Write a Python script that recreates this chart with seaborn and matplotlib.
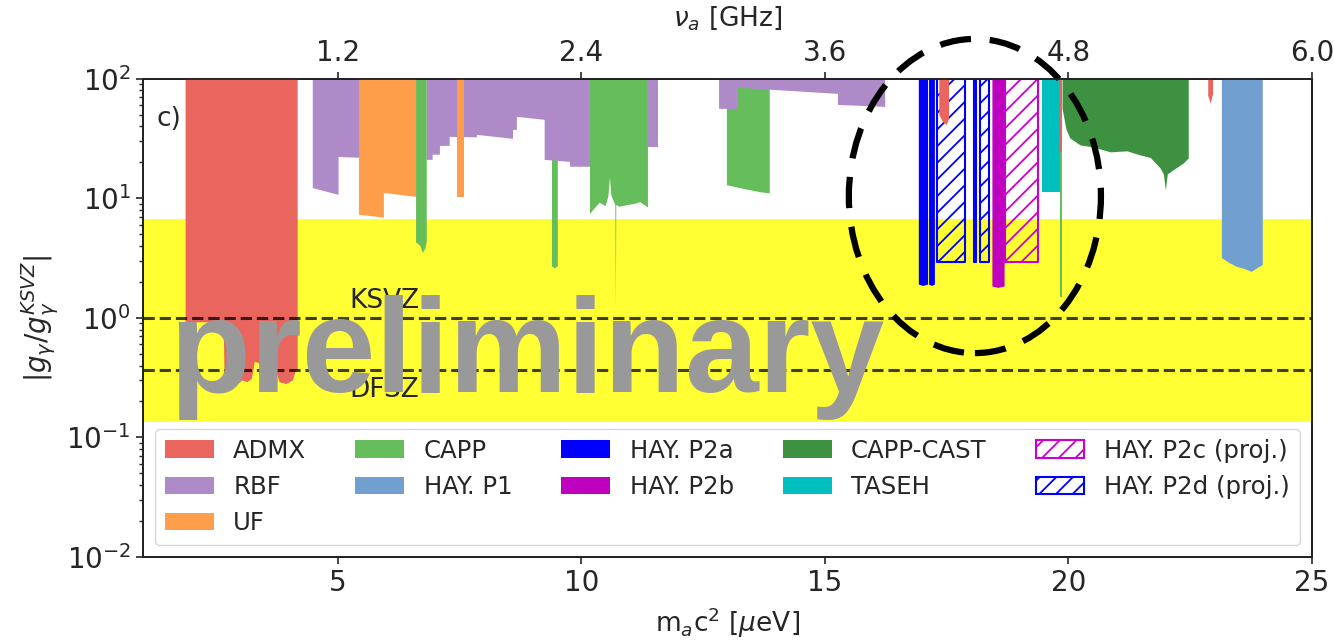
import numpy as np
import matplotlib
matplotlib.use("Agg")
import matplotlib.pyplot as plt
from matplotlib.patches import Ellipse
import seaborn as sns

nan = np.nan

# ---------------- data ----------------
# lower edges of exclusion regions (upper edge is the top of the plot, 1e2)
admx_x = [1.88, 2.66, 2.68, 2.75, 2.85, 2.95, 3.05, 3.15, 3.24, 3.30, 3.45, 3.60, 3.70, 3.81, 3.95, 4.08, 4.14, 4.18,
          nan, 17.35, 17.42, 17.50, 17.55, nan, 19.83, 19.87, nan, 22.87, 22.92, 22.97]
admx_lo = [0.92, 0.92, 0.33, 0.29, 0.31, 0.28, 0.30, 0.29, 0.31, 0.43, 0.41, 0.44, 0.40, 0.29, 0.28, 0.30, 0.36, 0.37,
           nan, 50, 44, 41, 46, nan, 24.5, 24.5, nan, 72, 62, 75]

rbf_x = [4.49, 5.02, 5.02, 6.61, nan, 6.83, 6.95, 6.95, 7.10, 7.10, 7.30, 7.30, 7.86, 7.86, 8.60, 8.60, 8.68, 8.68,
         9.25, 9.25, 9.77, 9.77, 10.18, nan, 11.37, 11.57, nan, 12.83, 13.22, 13.22, 15.27, 15.27, 16.24]
rbf_lo = [12.2, 10.7, 22.2, 21.0, nan, 21.0, 21.0, 23.2, 23.2, 27.5, 27.5, 32.7, 32.4, 34.0, 31.5, 37.4, 37.4, 48.1,
          45.4, 21.0, 20.2, 18.4, 18.4, nan, 27.0, 27.0, nan, 56.1, 56.1, 84.1, 74.9, 60.5, 58.3]

uf_x = [5.44, 5.95, 5.95, 6.61, nan, 7.45, 7.59]
uf_lo = [7.3, 6.9, 11.1, 10.3, nan, 10.3, 10.3]

capp_x = [6.61, 6.70, 6.75, 6.80, 6.83, nan, 9.40, 9.46, 9.52, nan,
          10.18, 10.28, 10.38, 10.50, 10.56, 10.59, 10.62, 10.70, 10.71, 10.72, 10.79, 10.95, 11.10, 11.21, 11.37, nan,
          12.99, 13.25, 13.66, 13.87, nan, 19.83, 19.87]
capp_lo = [4.3, 4.0, 3.5, 3.8, 4.3, nan, 2.7, 2.6, 2.7, nan,
           7.4, 8.3, 9.2, 8.6, 10.5, 15.0, 10.5, 8.8, 1.2, 8.8, 8.5, 8.8, 9.0, 9.3, 8.4, nan,
           12.9, 12.2, 11.3, 11.0, nan, 1.5, 1.5]

hay_p1_x = [23.14, 23.30, 23.45, 23.60, 23.75, 23.85, 23.98]
hay_p1_lo = [3.2, 2.9, 2.7, 2.6, 2.45, 2.6, 2.8]

hay_p2a_x = [16.93, 17.02, 17.12, nan, 17.14, 17.20, 17.26]
hay_p2a_lo = [1.9, 1.85, 1.9, nan, 1.9, 1.85, 1.9]

hay_p2b_x = [18.43, 18.55, 18.68]
hay_p2b_lo = [1.85, 1.8, 1.85]

capp_cast_x = [19.87, 19.95, 20.03, 20.24, 20.50, 20.86, 21.20, 21.47, 21.68, 21.88, 21.95, 21.99, 22.03, 22.09, 22.36, 22.46]
capp_cast_lo = [57, 38, 32, 28, 27, 24.5, 25, 23.1, 22, 18.0, 16, 11.8, 16, 16.7, 19.8, 21.8]

taseh_x = [19.46, 19.83]
taseh_lo = [11.3, 11.3]

# projected sensitivities (hatched boxes): (start, end) in micro-eV, common lower edge
hay_p2c_ranges = [(18.70, 19.38)]
hay_p2d_ranges = [(17.30, 17.88), (18.06, 18.10), (18.19, 18.37)]
proj_lo = 2.95

y_top = 100.0
qcd_band = (0.135, 6.7)
ksvz = 1.0
dfsz = 0.37

x_ticks = [5, 10, 15, 20, 25]
ghz_labels = ['1.2', '2.4', '3.6', '4.8', '6.0']

# ---------------- style ----------------
sns.set_style("ticks")
plt.rcParams['font.family'] = ['DejaVu Sans']
plt.rcParams['hatch.linewidth'] = 1.3

fig = plt.figure(figsize=(13.34, 6.41), dpi=100)
ax = fig.add_axes([0.107, 0.131, 0.8765, 0.746])

ax.set_xscale('linear')
ax.set_yscale('log')
ax.set_xlim(1, 25)
ax.set_ylim(1e-2, 1e2)

ax.axhspan(qcd_band[0], qcd_band[1], color='yellow', alpha=0.8, lw=0, zorder=0)


def region(x, lo, color, label, z):
    x = np.asarray(x, float)
    lo = np.asarray(lo, float)
    hi = np.where(np.isnan(lo), nan, y_top)
    return ax.fill_between(x, lo, hi, color=color, lw=0, label=label, zorder=z)


h_capp = region(capp_x, capp_lo, '#66bd5b', 'CAPP', 1)
h_rbf = region(rbf_x, rbf_lo, '#ae8ac8', 'RBF', 2)
h_uf = region(uf_x, uf_lo, '#fe9d4a', 'UF', 3)
h_p1 = region(hay_p1_x, hay_p1_lo, '#719fcf', 'HAY. P1', 3)
h_p2a = region(hay_p2a_x, hay_p2a_lo, '#0000ff', 'HAY. P2a', 3)
h_p2b = region(hay_p2b_x, hay_p2b_lo, '#bf00bf', 'HAY. P2b', 3)
h_cast = region(capp_cast_x, capp_cast_lo, '#3f9142', 'CAPP-CAST', 3)
h_taseh = region(taseh_x, taseh_lo, '#00bfbf', 'TASEH', 3)


def proj(ranges, color, label):
    first = None
    for i, (a, b) in enumerate(ranges):
        h = ax.fill_between([a, b], [proj_lo, proj_lo], [y_top, y_top], facecolor='none',
                            edgecolor=color, hatch='//', lw=1.5, zorder=4,
                            label=label if i == 0 else None)
        if i == 0:
            first = h
    return first


h_p2c = proj(hay_p2c_ranges, '#cc00cc', 'HAY. P2c (proj.)')
h_p2d = proj(hay_p2d_ranges, '#0000ff', 'HAY. P2d (proj.)')
h_admx = region(admx_x, admx_lo, '#ea655e', 'ADMX', 5)

# benchmark lines
ax.axhline(ksvz, color='k', ls='--', lw=2.2, alpha=0.75, zorder=6)
ax.axhline(dfsz, color='k', ls='--', lw=2.2, alpha=0.75, zorder=6)
ax.text(5.25, ksvz * 1.08, 'KSVZ', fontsize=19, va='bottom', ha='left', zorder=6)
ax.text(5.25, dfsz * 0.86, 'DFSZ', fontsize=19, va='top', ha='left', zorder=6)

ax.text(0.012, 0.915, 'c)', transform=ax.transAxes, fontsize=19, va='center', ha='left')

# axes styling
ax.set_xticks(x_ticks)
ax.set_xticklabels([str(t) for t in x_ticks])
ax.tick_params(axis='both', which='major', labelsize=20, length=5, width=1.2)
ax.tick_params(axis='y', which='minor', length=3, width=1.0)
ax.set_xlabel(r'm$_a$c$^2$ [$\mu$eV]', fontsize=19, labelpad=6)
ax.set_ylabel(r'$|g_\gamma/g_\gamma^{KSVZ}|$', fontsize=20, labelpad=4)
for s in ax.spines.values():
    s.set_visible(True)
    s.set_linewidth(1.3)
    s.set_color('#222222')

ax2 = ax.twiny()
ax2.set_xlim(ax.get_xlim())
ax2.set_xticks(x_ticks)
ax2.set_xticklabels(ghz_labels)
ax2.tick_params(axis='x', which='major', labelsize=20, length=5, width=1.2)
ax2.set_xlabel(r'$\nu_a$ [GHz]', fontsize=19, labelpad=10)
for s in ax2.spines.values():
    s.set_linewidth(1.3)
    s.set_color('#222222')

handles = [h_admx, h_rbf, h_uf, h_capp, h_p1, h_p2a, h_p2b, h_cast, h_taseh, h_p2c, h_p2d]
leg = ax.legend(handles=handles, labels=[h.get_label() for h in handles], loc='lower left', ncol=5,
                fontsize=17.6, frameon=True, handlelength=2.0, columnspacing=2.0)
leg.set_zorder(7)

# highlight ellipse
ell = Ellipse((0.7117, 0.755), 0.2156, 0.657, transform=ax.transAxes, fill=False,
              edgecolor='k', lw=4.5, ls=(0, (5, 3)), clip_on=False, zorder=12)
ax.add_patch(ell)

# watermark
fig.text(0.127, 0.388, 'preliminary', fontsize=95.5, fontweight='bold', color='#999999',
         family=['Liberation Sans', 'DejaVu Sans'], ha='left', va='baseline', zorder=20)

fig.savefig('out.png', dpi=100)
